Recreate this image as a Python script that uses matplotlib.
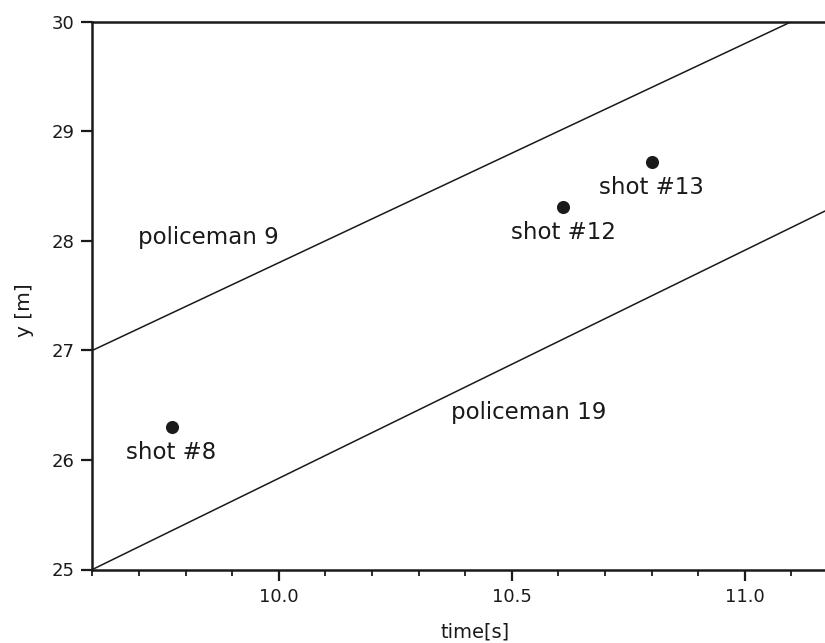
import matplotlib
matplotlib.use("Agg")
import matplotlib.pyplot as plt
from matplotlib.ticker import MultipleLocator, FormatStrFormatter

# ---- data ----
policeman_9_t = [9.6, 11.2]
policeman_9_y = [27.0, 30.2]
policeman_19_t = [9.6, 11.2]
policeman_19_y = [25.0, 28.33]

shot_t = [9.77, 10.61, 10.80]
shot_y = [26.30, 28.31, 28.72]
shot_labels = ["shot #8", "shot #12", "shot #13"]

line_labels = ["policeman 9", "policeman 19"]
line_label_t = [9.698, 10.369]
line_label_y = [27.97, 26.37]

plt.rcParams['font.family'] = ['DejaVu Sans']

W, H = 825, 643
fig = plt.figure(figsize=(W / 100, H / 100), dpi=100)
left_px, right_px, top_px, bottom_px = 92.4, 838.0, 21.7, 569.5
ax = fig.add_axes([left_px / W, (H - bottom_px) / H,
                   (right_px - left_px) / W, (bottom_px - top_px) / H])

ink = '#1a1a1a'
ax.plot(policeman_9_t, policeman_9_y, color=ink, lw=1.1)
ax.plot(policeman_19_t, policeman_19_y, color=ink, lw=1.1)
ax.plot(shot_t, shot_y, 'o', color=ink, markersize=8.4, linestyle='none')

for t, y, lab in zip(shot_t, shot_y, shot_labels):
    ax.annotate(lab, (t, y), xytext=(0, -23), textcoords='offset points',
                ha='center', va='baseline', fontsize=16.5, color=ink)

for t, y, lab in zip(line_label_t, line_label_y, line_labels):
    ax.text(t, y, lab, ha='left', va='baseline', fontsize=16.5, color=ink)

ax.set_xlim(9.6, 11.2)
ax.set_ylim(25, 30)

ax.xaxis.set_major_locator(MultipleLocator(0.5))
ax.xaxis.set_minor_locator(MultipleLocator(0.1))
ax.xaxis.set_major_formatter(FormatStrFormatter('%.1f'))
ax.yaxis.set_major_locator(MultipleLocator(1))
ax.yaxis.set_major_formatter(FormatStrFormatter('%d'))

ax.tick_params(axis='both', which='major', direction='out', length=8.0,
               width=1.6, labelsize=13, colors=ink)
ax.tick_params(axis='x', which='minor', direction='out', length=4.5, width=1.3, colors=ink)
ax.tick_params(axis='x', which='major', pad=5)
ax.tick_params(axis='y', which='major', pad=5)

for s in ['left', 'bottom', 'top']:
    ax.spines[s].set_linewidth(1.8)
    ax.spines[s].set_color(ink)
ax.spines['right'].set_visible(False)

ax.set_xlabel('time[s]', fontsize=14, color=ink)
ax.xaxis.set_label_coords((475 - left_px) / (right_px - left_px), -(637 - bottom_px) / (bottom_px - top_px))
ax.xaxis.label.set_va('baseline')
ax.set_ylabel('y [m]', fontsize=14.5, color=ink)
ax.yaxis.set_label_coords(-0.078, 0.474)

fig.savefig('out.png', dpi=100)
